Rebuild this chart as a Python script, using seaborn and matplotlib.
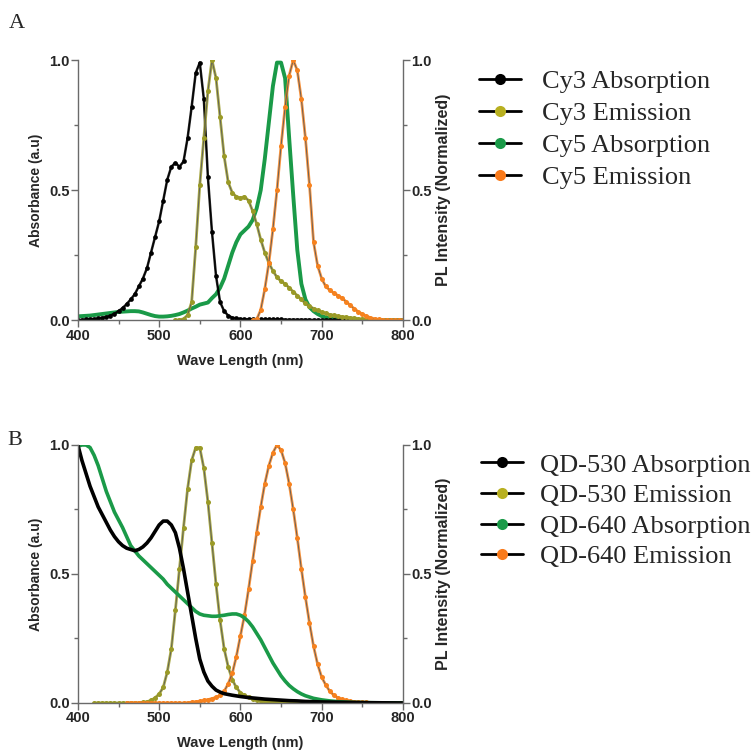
import numpy as np
import pandas as pd
import matplotlib
matplotlib.use("Agg")
import matplotlib.pyplot as plt
from matplotlib.lines import Line2D
from matplotlib.ticker import MultipleLocator
import seaborn as sns

# ---------------- Data ----------------
# Panel A (Cy3 / Cy5)
cy3_abs_nm = list(range(400, 805, 5))
cy3_abs = [0.0, 0.002, 0.003, 0.004, 0.005, 0.007, 0.01, 0.013, 0.018, 0.025,
           0.035, 0.047, 0.062, 0.08, 0.1, 0.13, 0.16, 0.2, 0.26, 0.32,
           0.38, 0.46, 0.54, 0.59, 0.605, 0.59, 0.61, 0.70, 0.82, 0.95,
           0.99, 0.85, 0.55, 0.34, 0.17, 0.07, 0.035, 0.018, 0.01, 0.007,
           0.005, 0.004, 0.004, 0.003, 0.003, 0.003, 0.003, 0.003, 0.003, 0.003,
           0.003, 0.002, 0.002, 0.002, 0.002, 0.002, 0.002, 0.002, 0.001, 0.001,
           0.001, 0.001, 0.001, 0.001, 0.001, 0.001, 0.001, 0.0, 0.0, 0.0,
           0.0, 0.0, 0.0, 0.0, 0.0, 0.0, 0.0, 0.0, 0.0, 0.0, 0.0]

cy3_em_nm = list(range(520, 805, 5))
cy3_em = [0.0, 0.002, 0.005, 0.02, 0.07, 0.28, 0.52, 0.70, 0.88, 1.0,
          0.93, 0.78, 0.63, 0.53, 0.49, 0.475, 0.47, 0.475, 0.46, 0.42,
          0.37, 0.31, 0.26, 0.22, 0.19, 0.165, 0.15, 0.14, 0.125, 0.11,
          0.095, 0.08, 0.065, 0.055, 0.045, 0.038, 0.032, 0.027, 0.022, 0.019,
          0.016, 0.014, 0.012, 0.01, 0.008, 0.006, 0.005, 0.004, 0.003, 0.002,
          0.001, 0.001, 0.0, 0.0, 0.0, 0.0, 0.0]

cy5_abs_nm = list(range(400, 805, 5))
cy5_abs = [0.015, 0.016, 0.017, 0.018, 0.02, 0.022, 0.024, 0.026, 0.028, 0.03,
           0.032, 0.033, 0.034, 0.035, 0.035, 0.034, 0.03, 0.025, 0.02, 0.016,
           0.014, 0.014, 0.015, 0.017, 0.02, 0.024, 0.03, 0.037, 0.045, 0.052,
           0.06, 0.064, 0.068, 0.085, 0.1, 0.125, 0.16, 0.21, 0.26, 0.30,
           0.33, 0.345, 0.36, 0.385, 0.43, 0.5, 0.62, 0.76, 0.9, 0.99,
           0.99, 0.93, 0.7, 0.48, 0.27, 0.14, 0.08, 0.05, 0.035, 0.024,
           0.016, 0.011, 0.008, 0.006, 0.005, 0.004, 0.003, 0.002, 0.002, 0.001,
           0.001, 0.001, 0.001, 0.0, 0.0, 0.0, 0.0, 0.0, 0.0, 0.0, 0.0]

cy5_em_nm = list(range(615, 805, 5))
cy5_em = [0.0, 0.003, 0.04, 0.12, 0.22, 0.35, 0.5, 0.67, 0.82, 0.94,
          1.0, 0.96, 0.85, 0.7, 0.52, 0.3, 0.21, 0.16, 0.13, 0.115,
          0.105, 0.095, 0.085, 0.072, 0.058, 0.045, 0.033, 0.024, 0.016, 0.01,
          0.006, 0.003, 0.001, 0.0, 0.0, 0.0, 0.0, 0.0]

# Panel B (QD-530 / QD-640)
qd530_abs_nm = [400, 405, 410, 415, 420, 425, 430, 435, 440, 445, 450, 455, 460,
                465, 470, 475, 480, 485, 490, 495, 500, 505, 510, 515, 520, 525,
                530, 535, 540, 545, 550, 555, 560, 565, 570, 575, 580, 590, 600,
                610, 620, 630, 640, 650, 660, 670, 680, 690, 700, 720, 740, 760,
                780, 800]
qd530_abs = [1.0, 0.94, 0.89, 0.84, 0.8, 0.76, 0.73, 0.70, 0.67, 0.645, 0.625,
             0.61, 0.6, 0.595, 0.59, 0.595, 0.605, 0.62, 0.64, 0.665, 0.69,
             0.705, 0.705, 0.69, 0.66, 0.6, 0.52, 0.43, 0.34, 0.25, 0.17, 0.12,
             0.085, 0.065, 0.05, 0.042, 0.036, 0.03, 0.025, 0.021, 0.018, 0.015,
             0.013, 0.011, 0.009, 0.008, 0.006, 0.005, 0.004, 0.003, 0.002,
             0.001, 0.0005, 0.0]

qd640_abs_nm = [400, 405, 410, 415, 420, 425, 430, 435, 440, 445, 450, 455, 460,
                465, 470, 475, 480, 485, 490, 495, 500, 505, 510, 515, 520, 525,
                530, 535, 540, 545, 550, 555, 560, 565, 570, 575, 580, 585, 590,
                595, 600, 605, 610, 615, 620, 625, 630, 635, 640, 645, 650, 655,
                660, 665, 670, 675, 680, 690, 700, 710, 720, 740, 760, 800]
qd640_abs = [0.995, 1.0, 1.0, 0.99, 0.96, 0.92, 0.87, 0.82, 0.78, 0.74, 0.71,
             0.68, 0.645, 0.61, 0.59, 0.57, 0.555, 0.54, 0.525, 0.51, 0.495,
             0.48, 0.46, 0.445, 0.43, 0.415, 0.4, 0.385, 0.37, 0.355, 0.345,
             0.34, 0.338, 0.336, 0.336, 0.338, 0.34, 0.343, 0.345, 0.345, 0.34,
             0.33, 0.315, 0.295, 0.27, 0.245, 0.215, 0.185, 0.155, 0.13, 0.105,
             0.085, 0.068, 0.055, 0.044, 0.035, 0.028, 0.018, 0.012, 0.008,
             0.005, 0.002, 0.001, 0.0]

qd530_em_nm = list(range(420, 705, 5))
qd530_em = [0.0, 0.0, 0.0, 0.0, 0.0, 0.0, 0.0, 0.0, 0.0, 0.0,
            0.0, 0.0, 0.002, 0.005, 0.01, 0.02, 0.035, 0.06, 0.12, 0.21,
            0.36, 0.52, 0.68, 0.83, 0.94, 0.99, 0.99, 0.91, 0.78, 0.62,
            0.46, 0.32, 0.21, 0.14, 0.09, 0.06, 0.04, 0.03, 0.022, 0.015,
            0.011, 0.008, 0.006, 0.005, 0.004, 0.003, 0.002, 0.002, 0.001, 0.001,
            0.001, 0.0, 0.0, 0.0, 0.0, 0.0, 0.0]

qd640_em_nm = list(range(460, 805, 5))
qd640_em = [0.0, 0.0, 0.0, 0.0, 0.0, 0.0, 0.0, 0.0, 0.0, 0.0,
            0.0, 0.0, 0.0, 0.0, 0.0, 0.001, 0.003, 0.005, 0.007, 0.01,
            0.013, 0.017, 0.022, 0.03, 0.045, 0.075, 0.115, 0.18, 0.26, 0.34,
            0.44, 0.55, 0.66, 0.76, 0.85, 0.92, 0.97, 1.0, 0.98, 0.93,
            0.85, 0.75, 0.64, 0.52, 0.41, 0.31, 0.22, 0.15, 0.10, 0.07,
            0.045, 0.03, 0.02, 0.014, 0.01, 0.007, 0.005, 0.004, 0.003, 0.002,
            0.001, 0.0, 0.0, 0.0, 0.0, 0.0, 0.0, 0.0, 0.0]

labels_a = ["Cy3 Absorption", "Cy3 Emission", "Cy5 Absorption", "Cy5 Emission"]
labels_b = ["QD-530 Absorption", "QD-530 Emission", "QD-640 Absorption", "QD-640 Emission"]
x_ticks = [400, 500, 600, 700, 800]
y_ticks = [0.0, 0.5, 1.0]

# ---------------- Style ----------------
sns.set_theme(style="ticks")
plt.rcParams['font.family'] = ['Liberation Sans', 'DejaVu Sans']

C_BLACK = "#000000"
C_OLIVE = "#9a9a26"
C_GREEN = "#1a9a48"
C_ORANGE = "#f7821e"
LEG_OLIVE = "#b8b020"
LEG_GREEN = "#1a9a48"
LEG_ORANGE = "#f97a1a"
SPINE = "#6a6a6a"
SERIF = ['Liberation Serif', 'DejaVu Serif']

fig = plt.figure(figsize=(7.56, 7.5), dpi=100)
ax_a = fig.add_axes([0.103, 0.573, 0.430, 0.347])
ax_b = fig.add_axes([0.103, 0.0627, 0.430, 0.344])


def dotted(ax, x, y, col, ms=3.6, lw=0.6, band=2.0, linecol="#5a5a5a"):
    # colored band so steep parts read as a continuous beaded trace
    sns.lineplot(x=x, y=y, ax=ax, color=col, linewidth=band, sort=False,
                 estimator=None, alpha=0.85)
    sns.lineplot(x=x, y=y, ax=ax, color=linecol, linewidth=lw, marker='o',
                 markersize=ms, markerfacecolor=col, markeredgewidth=0,
                 sort=False, estimator=None)


def solid(ax, x, y, col, lw=2.6):
    sns.lineplot(x=x, y=y, ax=ax, color=col, linewidth=lw, sort=False,
                 estimator=None)


def style_axes(ax):
    ax.set_xlim(400, 800)
    ax.set_ylim(0, 1.0)
    ax.set_xticks(x_ticks)
    ax.set_yticks(y_ticks)
    ax.xaxis.set_minor_locator(MultipleLocator(50))
    ax.yaxis.set_minor_locator(MultipleLocator(0.25))
    ax.set_xticklabels([str(v) for v in x_ticks], fontweight='bold', fontsize=10.5)
    ax.set_yticklabels([f"{v:.1f}" for v in y_ticks], fontweight='bold', fontsize=10.5)
    ax.tick_params(which='both', direction='out', color=SPINE, width=1, pad=1)
    ax.tick_params(which='major', length=5)
    ax.tick_params(which='minor', length=3)
    ax.spines['top'].set_visible(False)
    for s in ['left', 'bottom']:
        ax.spines[s].set_color(SPINE)
        ax.spines[s].set_linewidth(1)
    ax.spines['right'].set_visible(False)
    ax.set_xlabel("Wave Length (nm)", fontweight='bold', fontsize=10.5, labelpad=8)
    ax.set_ylabel("Absorbance (a.u)", fontweight='bold', fontsize=10, labelpad=4)
    ax.grid(False)

    tw = ax.twinx()
    tw.set_ylim(0, 1.0)
    tw.set_yticks(y_ticks)
    tw.yaxis.set_minor_locator(MultipleLocator(0.25))
    tw.set_yticklabels([f"{v:.1f}" for v in y_ticks], fontweight='bold', fontsize=10.5)
    tw.tick_params(which='both', direction='out', color=SPINE, width=1, pad=1)
    tw.tick_params(which='major', length=5)
    tw.tick_params(which='minor', length=3)
    for s in ['top', 'left', 'bottom']:
        tw.spines[s].set_visible(False)
    tw.spines['right'].set_color(SPINE)
    tw.spines['right'].set_linewidth(1)
    tw.set_ylabel("PL Intensity (Normalized)", fontweight='bold', fontsize=11.5, labelpad=3)
    tw.grid(False)
    return tw


# ---------------- Panel A ----------------
solid(ax_a, cy5_abs_nm, cy5_abs, C_GREEN, lw=2.8)
dotted(ax_a, cy3_abs_nm, cy3_abs, C_BLACK, ms=3.4, lw=0.8, band=1.8, linecol="#000000")
dotted(ax_a, cy3_em_nm, cy3_em, C_OLIVE)
dotted(ax_a, cy5_em_nm, cy5_em, C_ORANGE)
style_axes(ax_a)

# ---------------- Panel B ----------------
dotted(ax_b, qd530_em_nm, qd530_em, C_OLIVE)
dotted(ax_b, qd640_em_nm, qd640_em, C_ORANGE)
solid(ax_b, qd640_abs_nm, qd640_abs, C_GREEN, lw=2.6)
solid(ax_b, qd530_abs_nm, qd530_abs, C_BLACK, lw=2.6)
style_axes(ax_b)

# ---------------- Legends ----------------
def legend_handles(cols):
    return [Line2D([0], [0], color='black', lw=2.0, marker='o', markersize=8,
                   markerfacecolor=c, markeredgewidth=0) for c in cols]

leg_cols = [C_BLACK, LEG_OLIVE, LEG_GREEN, LEG_ORANGE]
fig.legend(legend_handles(leg_cols), labels_a, loc='center left',
           bbox_to_anchor=(0.633, 0.8275), frameon=False, borderaxespad=0,
           borderpad=0, handlelength=1.6, handletextpad=0.8, labelspacing=0.33,
           prop={'family': SERIF, 'size': 19})
fig.legend(legend_handles(leg_cols), labels_b, loc='center left',
           bbox_to_anchor=(0.636, 0.319), frameon=False, borderaxespad=0,
           borderpad=0, handlelength=1.6, handletextpad=0.65, labelspacing=0.27,
           prop={'family': SERIF, 'size': 19})

# Panel letters
fig.text(0.012, 0.968, "A", family=SERIF, fontsize=16, va='center', ha='left')
fig.text(0.010, 0.413, "B", family=SERIF, fontsize=16, va='center', ha='left')

fig.savefig("out.png", dpi=100)
